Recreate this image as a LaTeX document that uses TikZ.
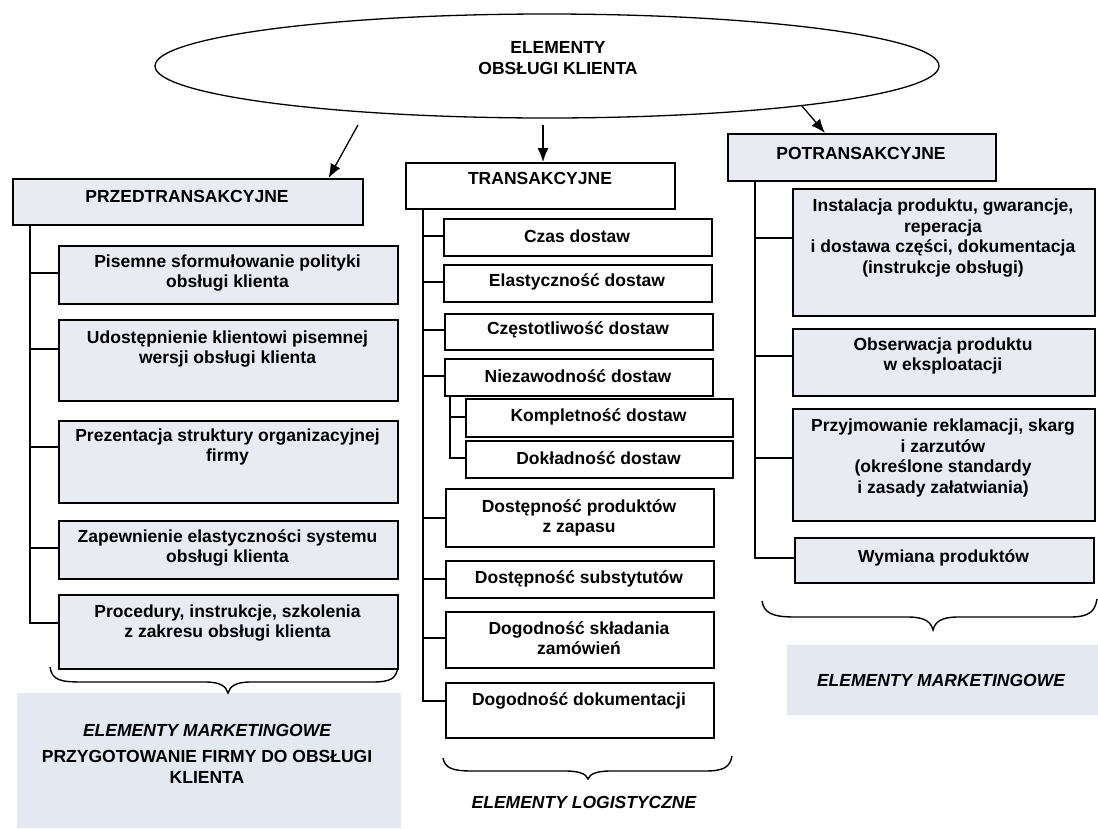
\documentclass[tikz,border=0pt]{standalone}
\usepackage{fontspec}
\setmainfont{Liberation Sans}
\usetikzlibrary{arrows.meta,shapes.geometric}
\definecolor{boxfill}{HTML}{E8ECF2}
\definecolor{panelblue}{HTML}{E4E9F1}

\tikzset{
  every node/.style={font=\bfseries\fontsize{17.5}{20.5}\selectfont},
  box/.style={draw, line width=1.6pt, anchor=north west, inner sep=0pt},
  gbox/.style={box, fill=boxfill},
  wbox/.style={box, fill=white},
  txt/.style={align=center, inner sep=0pt},
  conn/.style={line width=1.3pt},
  arr/.style={line width=1.3pt, -{Latex[length=14pt,width=11pt]}},
  brc/.style={line width=1.4pt},
}

% rectangle node from its corners: name, style, x1, y1, x2, y2
\newcommand\cornerbox[6]{%
  \node[#2, minimum width=#5pt-#3pt, minimum height=#6pt-#4pt] (#1) at (#3,#4) {};}

\begin{document}
\begin{tikzpicture}[x=1pt, y=-1pt]
\useasboundingbox (0,0) rectangle (1098,828);
\fill[white] (0,0) rectangle (1098,828);

% light label panels
\fill[panelblue] (17,693) rectangle (401,828);
\fill[panelblue] (787,645) rectangle (1098,715);

% top ellipse
\node[draw, ellipse, line width=1.3pt, minimum width=784pt, minimum height=104pt, inner sep=0pt] (ell) at (547,66) {};
\node[txt] (elltxt) at (558,58) {ELEMENTY\\OBSŁUGI KLIENTA};

% ---------- left column ----------
\cornerbox{pred}{gbox}{12}{178}{362}{224}
\node[txt] (predt) at (187,196) {PRZEDTRANSAKCYJNE};
\cornerbox{b1}{gbox}{58}{245}{397}{303}
\node[txt] (b1t) at (227.5,273) {Pisemne sformułowanie polityki\\obsługi klienta};
\cornerbox{b2}{gbox}{58}{319}{397}{400}
\node[txt] (b2t) at (227.5,349) {Udostępnienie klientowi pisemnej\\wersji obsługi klienta};
\cornerbox{b3}{gbox}{58}{420}{397}{502}
\node[txt] (b3t) at (227.5,447) {Prezentacja struktury organizacyjnej\\firmy};
\cornerbox{b4}{gbox}{58}{520}{397}{578}
\node[txt] (b4t) at (227.5,548) {Zapewnienie elastyczności systemu\\obsługi klienta};
\cornerbox{b5}{gbox}{58}{594}{397}{668}
\node[txt] (b5t) at (227.5,623) {Procedury, instrukcje, szkolenia\\z zakresu obsługi klienta};

\coordinate (trL) at (30,0);
\draw[conn] (trL |- pred.south) |- (b5.west |- b5t);
\foreach \b in {b1,b2,b3,b4}
  \draw[conn] (trL |- \b t) -- (\b.west |- \b t);

% ---------- middle column ----------
\cornerbox{trans}{wbox}{405}{162}{674}{208}
\node[txt] (transt) at (540,178) {TRANSAKCYJNE};
\cornerbox{m1}{wbox}{443}{218}{711}{255}
\node[txt] (m1t) at (577,236) {Czas dostaw};
\cornerbox{m2}{wbox}{443}{264}{711}{301}
\node[txt] (m2t) at (577,282) {Elastyczność dostaw};
\cornerbox{m3}{wbox}{444}{313}{712}{349}
\node[txt] (m3t) at (578,330) {Częstotliwość dostaw};
\cornerbox{m4}{wbox}{444}{358}{712}{395}
\node[txt] (m4t) at (578,376) {Niezawodność dostaw};
\cornerbox{s1}{wbox}{465}{398}{732}{436}
\node[txt] (s1t) at (598.5,417) {Kompletność dostaw};
\cornerbox{s2}{wbox}{465}{440}{732}{477}
\node[txt] (s2t) at (598.5,458) {Dokładność dostaw};
\cornerbox{m5}{wbox}{445}{488}{713}{546}
\node[txt] (m5t) at (579,518) {Dostępność produktów\\z zapasu};
\cornerbox{m6}{wbox}{445}{560}{713}{597}
\node[txt] (m6t) at (579,579) {Dostępność substytutów};
\cornerbox{m7}{wbox}{445}{611}{713}{667}
\node[txt] (m7t) at (579,638) {Dogodność składania\\zamówień};
\cornerbox{m8}{wbox}{445}{682}{713}{737}
\node[txt] (m8t) at (579,701) {Dogodność dokumentacji};

\coordinate (trM) at (423,0);
\draw[conn] (trM |- trans.south) |- (m8.west |- m8t);
\foreach \b in {m1,m2,m3,m4,m5,m6,m7}
  \draw[conn] (trM |- \b t) -- (\b.west |- \b t);
\coordinate (trS) at (450,0);
\draw[conn] (trS |- m4.south) |- (s2.west |- s2t);
\draw[conn] (trS |- s1t) -- (s1.west |- s1t);

% ---------- right column ----------
\cornerbox{pot}{gbox}{727}{133}{995}{180}
\node[txt] (pott) at (861,153) {POTRANSAKCYJNE};
\cornerbox{r1}{gbox}{792}{188}{1094}{315}
\node[txt] (r1t) at (943,238) {Instalacja produktu, gwarancje,\\reperacja\\i dostawa części, dokumentacja\\(instrukcje obsługi)};
\cornerbox{r2}{gbox}{792}{328}{1094}{395}
\node[txt] (r2t) at (943,356) {Obserwacja produktu\\w eksploatacji};
\cornerbox{r3}{gbox}{792}{408}{1094}{520}
\node[txt] (r3t) at (943,458) {Przyjmowanie reklamacji, skarg\\i zarzutów\\(określone standardy\\i zasady załatwiania)};
\cornerbox{r4}{gbox}{794}{537}{1093}{582}
\node[txt] (r4t) at (943.5,558) {Wymiana produktów};

\coordinate (trR) at (755,0);
\draw[conn] (trR |- pot.south) |- (r4.west |- r4t);
\foreach \b in {r1,r2,r3}
  \draw[conn] (trR |- \b t) -- (\b.west |- \b t);

% ---------- arrows from the ellipse ----------
\coordinate (a1) at (358,125);
\coordinate (a2) at (543,125);
\coordinate (a3) at (802,106);
\draw[arr] (a1) -- ([xshift=-35pt]pred.north east);
\draw[arr] (a2) -- (a2 |- trans.north);
\draw[arr] (a3) -- ([xshift=98pt]pot.north west);

% ---------- braces ----------
\draw[brc] (50,667) .. controls (52,680) and (60,682) .. (82,682) -- (205,682)
  .. controls (220,682) and (226,686) .. (228,693)
  .. controls (230,686) and (236,682) .. (251,682) -- (372,682)
  .. controls (392,682) and (396,678) .. (398,667);
\draw[brc] (443,758) .. controls (445,768) and (452,771) .. (472,771) -- (565,771)
  .. controls (580,771) and (586,774) .. (588,779)
  .. controls (590,774) and (596,771) .. (611,771) -- (705,771)
  .. controls (724,771) and (730,767) .. (732,756);
\draw[brc] (762,601) .. controls (764,613) and (772,617) .. (795,617) -- (908,617)
  .. controls (925,617) and (931,622) .. (933,630)
  .. controls (935,622) and (941,617) .. (958,617) -- (1070,617)
  .. controls (1090,617) and (1095,611) .. (1097,599);

% ---------- captions ----------
\node[txt] (capL1) at (207,730) {\itshape ELEMENTY MARKETINGOWE};
\node[txt] (capL2) at (207,767) {PRZYGOTOWANIE FIRMY DO OBSŁUGI\\KLIENTA};
\node[txt] (capM) at (584,802) {\itshape ELEMENTY LOGISTYCZNE};
\node[txt] (capR) at (941,680) {\itshape ELEMENTY MARKETINGOWE};
\end{tikzpicture}
\end{document}
